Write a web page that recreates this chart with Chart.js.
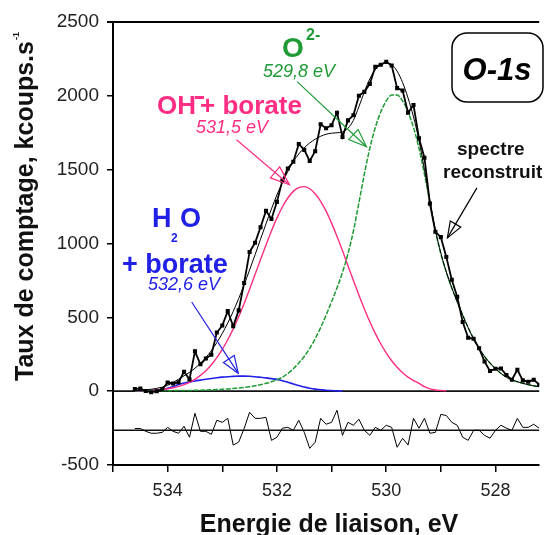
<!DOCTYPE html>
<html>
<head>
<meta charset="utf-8">
<title>O-1s</title>
<script src="https://cdn.jsdelivr.net/npm/chart.js@4.4.0/dist/chart.umd.min.js"></script>
<style>
  html, body { margin: 0; padding: 0; background: #fff; }
  canvas { display: block; }
</style>
</head>
<body>
<canvas id="xpsChart" width="545" height="535"></canvas>
<script>
// Binding energy grid (eV)
const energies = [
  534.6, 534.5, 534.4, 534.3, 534.2, 534.1, 534.0, 533.9, 533.8, 533.7,
  533.6, 533.5, 533.4, 533.3, 533.2, 533.1, 533.0, 532.9, 532.8, 532.7,
  532.6, 532.5, 532.4, 532.3, 532.2, 532.1, 532.0, 531.9, 531.8, 531.7,
  531.6, 531.5, 531.4, 531.3, 531.2, 531.1, 531.0, 530.9, 530.8, 530.7,
  530.6, 530.5, 530.4, 530.3, 530.2, 530.1, 530.0, 529.9, 529.8, 529.7,
  529.6, 529.5, 529.4, 529.3, 529.2, 529.1, 529.0, 528.9, 528.8, 528.7,
  528.6, 528.5, 528.4, 528.3, 528.2, 528.1, 528.0, 527.9, 527.8, 527.7,
  527.6, 527.5, 527.4, 527.3, 527.2
];

// Measured spectrum (kcoups.s-1)
const measured = [
  15, 17, 1, -7, -1, 13, 59, 52, 61, 131,
  80, 270, 182, 221, 247, 397, 445, 542, 440, 547,
  733, 943, 1005, 1110, 1221, 1166, 1282, 1426, 1508, 1554,
  1674, 1634, 1559, 1625, 1807, 1781, 1801, 1886, 1722, 1834,
  1868, 2001, 2027, 2081, 2196, 2211, 2230, 2205, 2052, 2036,
  1885, 1938, 1712, 1581, 1270, 1079, 1043, 908, 754, 639,
  468, 362, 355, 290, 201, 136, 152, 154, 109, 77,
  145, 73, 64, 77, 44
];

// Reconstructed spectrum (sum of components)
const reconstructed = [
  3, 5, 8, 13, 19, 27, 39, 59, 81, 104,
  127, 155, 189, 228, 274, 329, 391, 461, 540, 627,
  721, 821, 924, 1029, 1133, 1234, 1329, 1412, 1488, 1554,
  1606, 1648, 1681, 1706, 1726, 1740, 1747, 1750, 1756, 1780,
  1834, 1926, 2027, 2115, 2176, 2211, 2224, 2211, 2167, 2090,
  1985, 1857, 1698, 1500, 1290, 1093, 935, 808, 700, 605,
  515, 430, 355, 290, 235, 190, 152, 120, 95, 77,
  64, 53, 44, 36, 30
];

// O2- component, 529,8 eV
const oxide = [
  2, 2, 2, 3, 3, 3, 3, 4, 4, 5,
  5, 6, 7, 8, 9, 11, 13, 15, 18, 21,
  25, 30, 36, 44, 53, 64, 77, 95, 120, 152,
  190, 235, 290, 355, 430, 515, 605, 700, 805, 930,
  1085, 1275, 1470, 1645, 1785, 1890, 1965, 2005, 2005, 1965,
  1890, 1785, 1645, 1470, 1275, 1085, 930, 805, 700, 605,
  515, 430, 355, 290, 235, 190, 152, 120, 95, 77,
  64, 53, 44, 36, 30
];

// OH- + borate component, 531,5 eV
const hydroxide = [
  1, 2, 3, 5, 8, 11, 16, 23, 32, 44,
  60, 80, 107, 139, 179, 227, 283, 348, 422, 504,
  594, 690, 790, 891, 990, 1085, 1172, 1247, 1308, 1353,
  1378, 1385, 1371, 1337, 1286, 1219, 1138, 1048, 951, 850,
  749, 651, 557, 470, 391, 321, 259, 206, 162, 125,
  95, 72, 53, 30, 15, 8, 5, 3, null, null,
  null, null, null, null, null, null, null, null, null, null,
  null, null, null, null, null
];

// H2O + borate component, 532,6 eV
const water = [
  0, 1, 3, 5, 8, 13, 20, 32, 45, 55,
  62, 69, 75, 81, 86, 91, 95, 98, 100, 102,
  102, 101, 98, 94, 90, 85, 80, 70, 60, 49,
  38, 28, 20, 14, 10, 6, 4, 2, 0, null,
  null, null, null, null, null, null, null, null, null, null,
  null, null, null, null, null, null, null, null, null, null,
  null, null, null, null, null, null, null, null, null, null,
  null, null, null, null, null
];

// Residual (measured - reconstructed), drawn shifted below zero
const residual = [
  12, 12, -7, -20, -20, -14, 20, -7, -20, 27,
  -47, 115, -7, -7, -27, 68, 54, 81, -100, -80,
  12, 122, 81, 81, 88, -68, -47, 14, 20, 0,
  68, -14, -122, -81, 81, 41, 54, 136, -34, 54,
  34, 75, 0, -34, 20, 0, 34, 20, -115, -54,
  -100, 81, 14, 81, -20, -14, 108, 100, 54, 34,
  -47, -68, 0, 0, -34, -54, 0, 34, 14, 0,
  81, 20, 20, 41, 14
];
const residualOffset = -265;

const xTicks = [535, 534, 533, 532, 531, 530, 529, 528];
const xLabels = [534, 532, 530, 528];
const yTicks = [-500, 0, 500, 1000, 1500, 2000, 2500];

const GREEN = '#1f9a35';
const PINK = '#ff2d83';
const BLUE = '#2020e6';
const FONT = '"Liberation Sans", Arial, sans-serif';

function pts(values, shift) {
    return energies.map((e, i) => ({ x: e, y: values[i] === null ? null : values[i] + (shift || 0) }));
}

// Arrow helper: line with an open triangular head
function arrow(ctx, x0, y0, x1, y1, color, len) {
    const ang = Math.atan2(y1 - y0, x1 - x0);
    const half = len * 0.38;
    const bx = x1 - len * Math.cos(ang);
    const by = y1 - len * Math.sin(ang);
    const px = -Math.sin(ang) * half;
    const py = Math.cos(ang) * half;
    ctx.strokeStyle = color;
    ctx.lineWidth = 1.2;
    ctx.beginPath();
    ctx.moveTo(x0, y0);
    ctx.lineTo(x1, y1);
    ctx.stroke();
    ctx.beginPath();
    ctx.moveTo(x1, y1);
    ctx.lineTo(bx + px, by + py);
    ctx.lineTo(bx - px, by - py);
    ctx.closePath();
    ctx.stroke();
}

// Zero lines, frame, labels and arrows
const decorations = {
    id: 'decorations',
    beforeDatasetsDraw(chart) {
        const { ctx, chartArea: a, scales: { y } } = chart;
        ctx.save();
        ctx.strokeStyle = '#111';
        ctx.lineWidth = 1.6;
        [0, residualOffset].forEach(v => {
            const py = y.getPixelForValue(v);
            ctx.beginPath();
            ctx.moveTo(a.left, py);
            ctx.lineTo(a.right, py);
            ctx.stroke();
        });
        ctx.lineWidth = 2;
        ctx.strokeStyle = '#000';
        ctx.beginPath();
        ctx.moveTo(a.left - 6, a.top);
        ctx.lineTo(a.right, a.top);
        ctx.stroke();
        ctx.restore();
    },
    afterDraw(chart) {
        const { ctx, scales: { x, y } } = chart;
        const px = e => x.getPixelForValue(e);
        const py = v => y.getPixelForValue(v);
        ctx.save();
        ctx.textBaseline = 'alphabetic';

        // axis titles
        ctx.fillStyle = '#111';
        ctx.font = 'bold 25px ' + FONT;
        ctx.textAlign = 'center';
        ctx.fillText('Energie de liaison, eV', 329, 532);
        ctx.save();
        ctx.translate(33, 211);
        ctx.rotate(-Math.PI / 2);
        ctx.fillText('Taux de comptage, kcoups.s', 0, 0);
        const tw = ctx.measureText('Taux de comptage, kcoups.s').width;
        ctx.font = 'bold 9px ' + FONT;
        ctx.textAlign = 'left';
        ctx.fillText('-1', tw / 2 + 1, -14);
        ctx.restore();

        // O-1s box
        ctx.strokeStyle = '#000';
        ctx.lineWidth = 1.5;
        ctx.beginPath();
        ctx.roundRect(452, 33, 91, 69, 15);
        ctx.stroke();
        ctx.fillStyle = '#000';
        ctx.font = 'italic bold 31px ' + FONT;
        ctx.textAlign = 'center';
        ctx.fillText('O-1s', 497, 80);

        ctx.textAlign = 'left';
        // O2-
        ctx.fillStyle = GREEN;
        ctx.font = 'bold 28px ' + FONT;
        ctx.fillText('O', 282, 57);
        ctx.font = 'bold 16px ' + FONT;
        ctx.fillText('2-', 306, 40);
        ctx.font = 'italic 18px ' + FONT;
        ctx.fillText('529,8 eV', 263, 77);

        // OH- + borate
        ctx.fillStyle = PINK;
        ctx.font = 'bold 26px ' + FONT;
        ctx.fillText('OH', 157, 114);
        const ohw = ctx.measureText('OH').width;
        ctx.fillRect(157 + ohw - 1, 96, 9, 3);
        ctx.fillText('+ borate', 157 + ohw + 4, 114);
        ctx.font = 'italic 18px ' + FONT;
        ctx.fillText('531,5 eV', 196, 133);

        // H2O + borate
        ctx.fillStyle = BLUE;
        ctx.font = 'bold 27px ' + FONT;
        ctx.fillText('H', 152, 227);
        ctx.fillText('O', 180, 227);
        ctx.font = 'bold 12px ' + FONT;
        ctx.fillText('2', 171, 242);
        ctx.font = 'bold 27px ' + FONT;
        ctx.fillText('+ borate', 122, 273);
        ctx.font = 'italic 18px ' + FONT;
        ctx.fillText('532,6 eV', 148, 290);

        // reconstructed spectrum label
        ctx.fillStyle = '#111';
        ctx.font = 'bold 19px ' + FONT;
        ctx.fillText('spectre', 457, 155);
        ctx.fillText('reconstruit', 443, 178);

        // arrows, given in data coordinates
        arrow(ctx, px(531.63), py(2096), px(530.36), py(1655), GREEN, 18);
        arrow(ctx, px(532.74), py(1703), px(531.77), py(1398), PINK, 19);
        arrow(ctx, px(533.56), py(604), px(532.71), py(122), BLUE, 17);
        arrow(ctx, px(528.34), py(1377), px(528.88), py(1038), '#000', 16);
        ctx.restore();
    }
};

const ctx = document.getElementById('xpsChart');
new Chart(ctx, {
    type: 'line',
    data: {
        datasets: [
            {
                data: pts(measured),
                borderColor: '#000',
                backgroundColor: '#000',
                borderWidth: 1.8,
                pointStyle: 'rect',
                pointRadius: 1.6,
                tension: 0
            },
            {
                data: pts(reconstructed),
                borderColor: '#000',
                borderWidth: 1,
                pointRadius: 0,
                cubicInterpolationMode: 'monotone'
            },
            {
                data: pts(residual, residualOffset),
                borderColor: '#000',
                borderWidth: 1,
                pointRadius: 0,
                tension: 0
            },
            {
                data: pts(oxide),
                borderColor: GREEN,
                borderWidth: 1.5,
                borderDash: [5, 1.5],
                pointRadius: 0,
                cubicInterpolationMode: 'monotone'
            },
            {
                data: pts(hydroxide),
                borderColor: PINK,
                borderWidth: 1.4,
                pointRadius: 0,
                cubicInterpolationMode: 'monotone'
            },
            {
                data: pts(water),
                borderColor: BLUE,
                borderWidth: 1.6,
                pointRadius: 0,
                cubicInterpolationMode: 'monotone'
            }
        ]
    },
    options: {
        responsive: false,
        animation: false,
        events: [],
        layout: { padding: { top: 22, right: 0, bottom: 0, left: 0 } },
        plugins: {
            legend: { display: false },
            tooltip: { enabled: false }
        },
        scales: {
            x: {
                type: 'linear',
                reverse: true,
                min: 527.2,
                max: 535,
                afterBuildTicks: scale => { scale.ticks = xTicks.map(v => ({ value: v })); },
                afterFit: scale => { scale.height = 70; },
                grid: { drawOnChartArea: false, drawTicks: true, tickLength: 7, color: '#000', lineWidth: 1.5 },
                border: { display: true, color: '#000', width: 2 },
                ticks: {
                    maxRotation: 0,
                    autoSkip: false,
                    padding: 8,
                    color: '#222',
                    font: { family: FONT, size: 18 },
                    callback: v => xLabels.includes(v) ? String(v) : ''
                }
            },
            y: {
                min: -500,
                max: 2500,
                afterBuildTicks: scale => { scale.ticks = yTicks.map(v => ({ value: v })); },
                afterFit: scale => { scale.width = 113; },
                grid: { drawOnChartArea: false, drawTicks: true, tickLength: 6, color: '#000', lineWidth: 1.5 },
                border: { display: true, color: '#000', width: 2 },
                ticks: {
                    padding: 8,
                    color: '#222',
                    font: { family: FONT, size: 19 },
                    callback: v => String(v)
                }
            }
        }
    },
    plugins: [decorations]
});
</script>
</body>
</html>
